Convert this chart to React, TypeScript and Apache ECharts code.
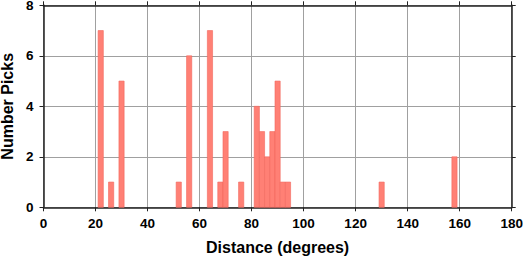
import React, { useEffect, useRef } from "react";
import * as echarts from "echarts";

const binCenters = [22, 26, 30, 52, 56, 64, 68, 70, 76, 82, 84, 86, 88, 90, 92, 94, 130, 158];
const pickCounts = [7, 1, 5, 1, 6, 7, 1, 3, 1, 4, 3, 2, 3, 5, 1, 1, 1, 2];
const BIN_WIDTH = 2;
const xTitle = "Distance (degrees)";
const yTitle = "Number Picks";

const FONT = "'Liberation Sans', Arial, Helvetica, sans-serif";
const FRAME = "#222";
const GRID = "#a0a0a0";

export default function App() {
  const ref = useRef<HTMLDivElement>(null);
  useEffect(() => {
    if (!ref.current) return;
    const chart = echarts.init(ref.current, undefined, { renderer: "svg" });
    const data = binCenters.map((c, i) => [c, pickCounts[i]]);
    const labelStyle = { fontFamily: FONT, fontWeight: "bold" as const, fontSize: 13.5, color: "#000" };
    const nameStyle = { fontFamily: FONT, fontWeight: "bold" as const, fontSize: 16, color: "#000" };
    const frameLine = { show: true, lineStyle: { color: FRAME, width: 1.5 } };
    const tick = { show: true, inside: false, length: 4, lineStyle: { color: FRAME, width: 1 } };
    chart.setOption({
      animation: false,
      grid: {
        left: 43.5, right: 11.3, top: 5.3, bottom: 50.7,
        containLabel: false, outerBoundsMode: "none",
      },
      xAxis: [
        {
          type: "value", min: 0, max: 180, interval: 20, position: "bottom",
          axisLine: { ...frameLine, onZero: false },
          axisTick: tick,
          axisLabel: { ...labelStyle, margin: 9 },
          splitLine: { show: true, lineStyle: { color: GRID, width: 1 } },
          name: xTitle, nameLocation: "middle", nameGap: 32,
          nameTextStyle: nameStyle,
        },
        {
          type: "value", min: 0, max: 180, interval: 20, position: "top",
          axisLine: { ...frameLine, onZero: false },
          axisTick: tick,
          axisLabel: { show: false },
          splitLine: { show: false },
        },
      ],
      yAxis: [
        {
          type: "value", min: 0, max: 8, interval: 2, position: "left",
          axisLine: { ...frameLine, onZero: false },
          axisTick: tick,
          axisLabel: { ...labelStyle, margin: 10 },
          splitLine: { show: true, lineStyle: { color: GRID, width: 1 } },
          name: yTitle, nameLocation: "middle", nameGap: 27,
          nameTextStyle: nameStyle,
        },
        {
          type: "value", min: 0, max: 8, interval: 2, position: "right",
          axisLine: { ...frameLine, onZero: false },
          axisTick: tick,
          axisLabel: { show: false },
          splitLine: { show: false },
        },
      ],
      series: [
        {
          type: "custom",
          xAxisIndex: 0,
          yAxisIndex: 0,
          data,
          renderItem: (params: any, api: any) => {
            const x = api.value(0);
            const y = api.value(1);
            const p0 = api.coord([x - BIN_WIDTH / 2, y]);
            const p1 = api.coord([x + BIN_WIDTH / 2, 0]);
            return {
              type: "rect",
              shape: { x: p0[0], y: p0[1], width: p1[0] - p0[0], height: p1[1] - p0[1] },
              style: { fill: "#FF8075", stroke: "#F2665C", lineWidth: 0.6 },
            };
          },
        },
      ],
    });
    return () => chart.dispose();
  }, []);
  return (
    <div
      ref={ref}
      style={{ position: "fixed", left: 0, top: 0, width: 523, height: 258, background: "#fff" }}
    />
  );
}
